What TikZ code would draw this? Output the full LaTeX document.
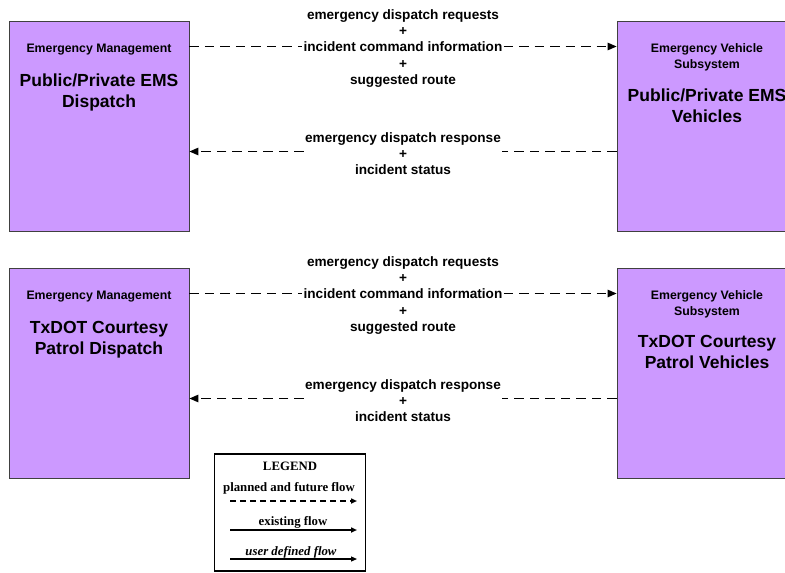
\documentclass[tikz,border=0pt]{standalone}
\usepackage{fontspec}
\setmainfont{Liberation Sans}
\newfontfamily\legendfont{Liberation Serif}
\usetikzlibrary{arrows.meta}
\definecolor{boxfill}{HTML}{CC99FF}
\definecolor{boxline}{HTML}{404040}
\tikzset{
  sysbox/.style={draw=boxline, line width=0.8pt, fill=boxfill, minimum width=180pt, minimum height=210pt, inner sep=0pt},
  classtxt/.style={font=\bfseries\fontsize{12.3}{15.5}\selectfont, align=center, inner sep=0pt},
  nametxt/.style={font=\bfseries\fontsize{17.5}{21}\selectfont, align=center, inner sep=0pt},
  flowtxt/.style={font=\bfseries\fontsize{13.6}{16.3}\selectfont, align=center, inner sep=1pt},
  flowline/.style={line width=1.2pt, dash pattern=on 9.5pt off 6pt},
  flowarrow/.style={flowline, -{Triangle[length=9pt,width=7.5pt]}},
  legtxt/.style={font=\legendfont\bfseries\fontsize{12.8}{14}\selectfont, inner sep=0pt},
  legarrow/.style={-{Triangle[length=6pt,width=5pt]}}
}
\begin{document}
\begin{tikzpicture}[x=1pt,y=-1pt]
\useasboundingbox (0,0) rectangle (785,573);
\clip (0,0) rectangle (785,573);

% ---------- row 1 ----------
\node[sysbox] (emsA) at (99,126) {};
\node[sysbox] (emsB) at (707,126) {};
\node[classtxt] (emsAc) at (99,49.5) {Emergency Management};
\node[nametxt] (emsAn) at (99,92.5) {Public/Private EMS\\Dispatch};
\node[classtxt] (emsBc) at (707,57.5) {Emergency Vehicle\\Subsystem};
\node[nametxt] (emsBn) at (707,105.5) {Public/Private EMS\\Vehicles};

\node[flowtxt] (lab1) at (403,48.5) {emergency dispatch requests\\+\\incident command information\\+\\suggested route};
\node[flowtxt] (lab2) at (403,153.5) {emergency dispatch response\\+\\incident status};
\draw[flowline] (emsA.east |- lab1) ++(0,-2) -- ([yshift=2pt]lab1.west);
\draw[flowarrow] ([yshift=2pt]lab1.east) -- ([yshift=2pt]emsB.west |- lab1);
\draw[flowline] ([yshift=2pt]emsB.west |- lab2) -- ([yshift=2pt]lab2.east);
\draw[flowarrow] ([yshift=2pt]lab2.west) -- ([yshift=2pt]emsA.east |- lab2);

% ---------- row 2 ----------
\node[sysbox] (txA) at (99,373) {};
\node[sysbox] (txB) at (707,373) {};
\node[classtxt] (txAc) at (99,296.5) {Emergency Management};
\node[nametxt] (txAn) at (99,339.5) {TxDOT Courtesy\\Patrol Dispatch};
\node[classtxt] (txBc) at (707,304.5) {Emergency Vehicle\\Subsystem};
\node[nametxt] (txBn) at (707,352) {TxDOT Courtesy\\Patrol Vehicles};

\node[flowtxt] (lab3) at (403,295.5) {emergency dispatch requests\\+\\incident command information\\+\\suggested route};
\node[flowtxt] (lab4) at (403,400.5) {emergency dispatch response\\+\\incident status};
\draw[flowline] (txA.east |- lab3) ++(0,-2) -- ([yshift=2pt]lab3.west);
\draw[flowarrow] ([yshift=2pt]lab3.east) -- ([yshift=2pt]txB.west |- lab3);
\draw[flowline] ([yshift=2pt]txB.west |- lab4) -- ([yshift=2pt]lab4.east);
\draw[flowarrow] ([yshift=2pt]lab4.west) -- ([yshift=2pt]txA.east |- lab4);

% ---------- legend ----------
\node[draw=black, line width=1.1pt, minimum width=151pt, minimum height=117pt, inner sep=0pt] (legend) at (290,512.5) {};
\node[legtxt] (legT) at (290,466) {LEGEND};
\node[legtxt] (leg1) at (289,488.5) {planned and future flow};
\coordinate (l1a) at (230,501);
\coordinate (l1b) at (357,501);
\draw[legarrow, line width=1.5pt, dash pattern=on 6pt off 4pt] (l1a) -- (l1b);
\node[legtxt] (leg2) at (293,522.5) {existing flow};
\coordinate (l2a) at (230,530);
\coordinate (l2b) at (357,530);
\draw[legarrow, line width=1.7pt] (l2a) -- (l2b);
\node[legtxt, font=\legendfont\bfseries\itshape\fontsize{12.8}{14}\selectfont] (leg3) at (291,552.5) {user defined flow};
\coordinate (l3a) at (230,559);
\coordinate (l3b) at (357,559);
\draw[legarrow, line width=1.2pt] (l3a) -- (l3b);
\end{tikzpicture}
\end{document}
